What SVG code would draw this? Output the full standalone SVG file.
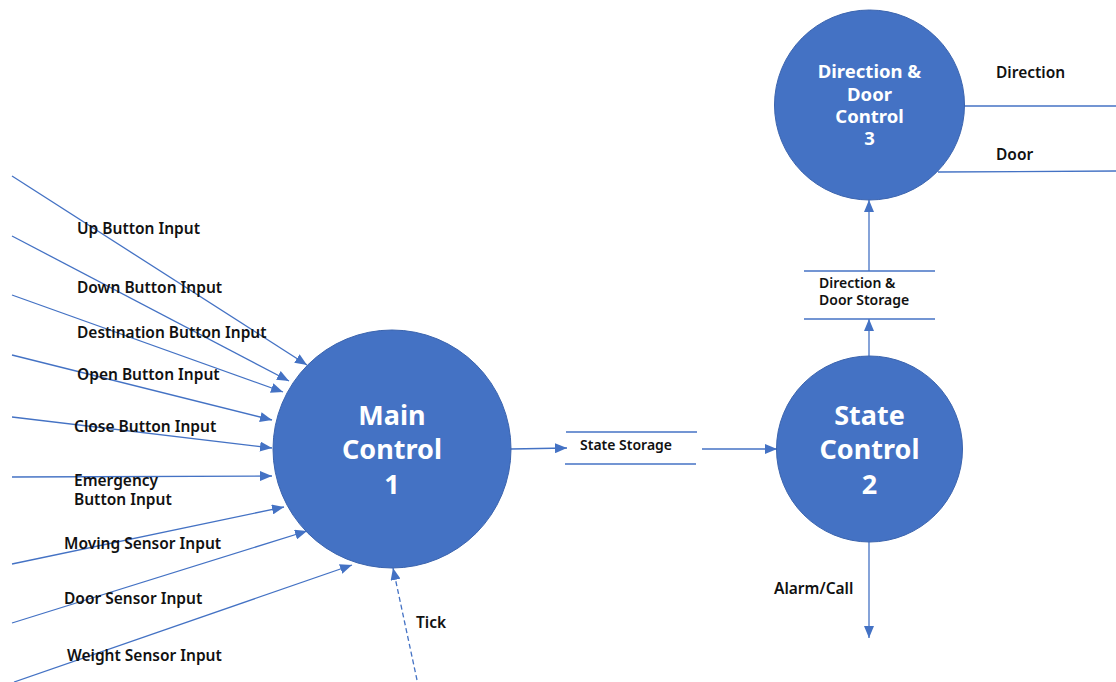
<svg xmlns="http://www.w3.org/2000/svg" width="1116" height="682" viewBox="0 0 1116 682">
  <style>
    .flow { stroke: #4472C4; stroke-width: 1.3; fill: none; }
    .dash { stroke-dasharray: 5 3; }
    .proc { fill: #4472C4; stroke: #3B64AE; stroke-width: 1; }
    .lbl { font-family: "Noto Sans", "Liberation Sans", sans-serif; font-weight: 600; font-size: 15.5px; fill: #111; }
    .small { font-size: 14px; }
    .big { font-family: "Noto Sans", "Liberation Sans", sans-serif; font-weight: 700; font-size: 27px; fill: #fff; text-anchor: middle; }
    .mid { font-family: "Noto Sans", "Liberation Sans", sans-serif; font-weight: 700; font-size: 18.5px; fill: #fff; text-anchor: middle; }
  </style>
  <defs>
    <marker id="arrow" markerUnits="userSpaceOnUse" markerWidth="12" markerHeight="10" refX="12" refY="5" orient="auto">
      <path d="M0,0 L12,5 L0,10 z" fill="#4472C4"/>
    </marker>
  </defs>
  <rect width="1116" height="682" fill="#fff"/>

  <!-- data flows -->
  <g id="connectors">
    <line class="flow" x1="12" y1="176" x2="307" y2="365" marker-end="url(#arrow)"/>
    <line class="flow" x1="12" y1="236" x2="289" y2="381" marker-end="url(#arrow)"/>
    <line class="flow" x1="12" y1="295" x2="283" y2="392" marker-end="url(#arrow)"/>
    <line class="flow" x1="12" y1="355" x2="272" y2="420" marker-end="url(#arrow)"/>
    <line class="flow" x1="12" y1="417" x2="272" y2="448" marker-end="url(#arrow)"/>
    <line class="flow" x1="12" y1="477" x2="272" y2="476" marker-end="url(#arrow)"/>
    <line class="flow" x1="12" y1="564" x2="284" y2="507" marker-end="url(#arrow)"/>
    <line class="flow" x1="12" y1="623" x2="307" y2="531" marker-end="url(#arrow)"/>
    <line class="flow" x1="14" y1="682" x2="352" y2="565" marker-end="url(#arrow)"/>
    <line class="flow dash" x1="417" y1="680" x2="393" y2="568" marker-end="url(#arrow)"/>

    <line class="flow" x1="511" y1="449" x2="567" y2="448" marker-end="url(#arrow)"/>
    <line class="flow" x1="702" y1="449" x2="777" y2="449" marker-end="url(#arrow)"/>
    <line class="flow" x1="869" y1="356" x2="869" y2="319" marker-end="url(#arrow)"/>
    <line class="flow" x1="869" y1="271" x2="869" y2="200" marker-end="url(#arrow)"/>
    <line class="flow" x1="869" y1="542" x2="869" y2="638" marker-end="url(#arrow)"/>

    <line class="flow" x1="964" y1="106" x2="1116" y2="106"/>
    <line class="flow" x1="938" y1="172" x2="1116" y2="171"/>
  </g>

  <!-- flow labels -->
  <g id="flow-labels">
    <text class="lbl" x="77" y="234">Up Button Input</text>
    <text class="lbl" x="77" y="293">Down Button Input</text>
    <text class="lbl" x="77" y="338">Destination Button Input</text>
    <text class="lbl" x="77" y="380">Open Button Input</text>
    <text class="lbl" x="74" y="432">Close Button Input</text>
    <text class="lbl" x="74" y="486">Emergency</text>
    <text class="lbl" x="74" y="505">Button Input</text>
    <text class="lbl" x="64" y="549">Moving Sensor Input</text>
    <text class="lbl" x="64" y="604">Door Sensor Input</text>
    <text class="lbl" x="67" y="661">Weight Sensor Input</text>
    <text class="lbl" x="416" y="628">Tick</text>
    <text class="lbl" x="996" y="78">Direction</text>
    <text class="lbl" x="996" y="160">Door</text>
    <text class="lbl" x="774" y="594">Alarm/Call</text>
  </g>

  <!-- data stores -->
  <g id="state-storage">
    <line class="flow" x1="566" y1="432" x2="697" y2="432"/>
    <line class="flow" x1="565" y1="464" x2="696" y2="464"/>
    <text class="lbl small" x="580" y="450">State Storage</text>
  </g>
  <g id="direction-door-storage">
    <line class="flow" x1="804" y1="271" x2="935" y2="271"/>
    <line class="flow" x1="804" y1="319" x2="935" y2="319"/>
    <text class="lbl small" x="819" y="288">Direction &amp;</text>
    <text class="lbl small" x="819" y="305">Door Storage</text>
  </g>

  <!-- processes -->
  <g id="main-control">
    <circle class="proc" cx="392" cy="449" r="119"/>
    <text class="big" x="392" y="425">Main</text>
    <text class="big" x="392" y="459">Control</text>
    <text class="big" x="392" y="494">1</text>
  </g>
  <g id="state-control">
    <circle class="proc" cx="869.5" cy="449" r="93"/>
    <text class="big" x="869.5" y="425">State</text>
    <text class="big" x="869.5" y="459">Control</text>
    <text class="big" x="869.5" y="494">2</text>
  </g>
  <g id="direction-door-control">
    <circle class="proc" cx="869.5" cy="105" r="95"/>
    <text class="mid" x="869.5" y="78">Direction &amp;</text>
    <text class="mid" x="869.5" y="101">Door</text>
    <text class="mid" x="869.5" y="123">Control</text>
    <text class="mid" x="869.5" y="145">3</text>
  </g>
</svg>
